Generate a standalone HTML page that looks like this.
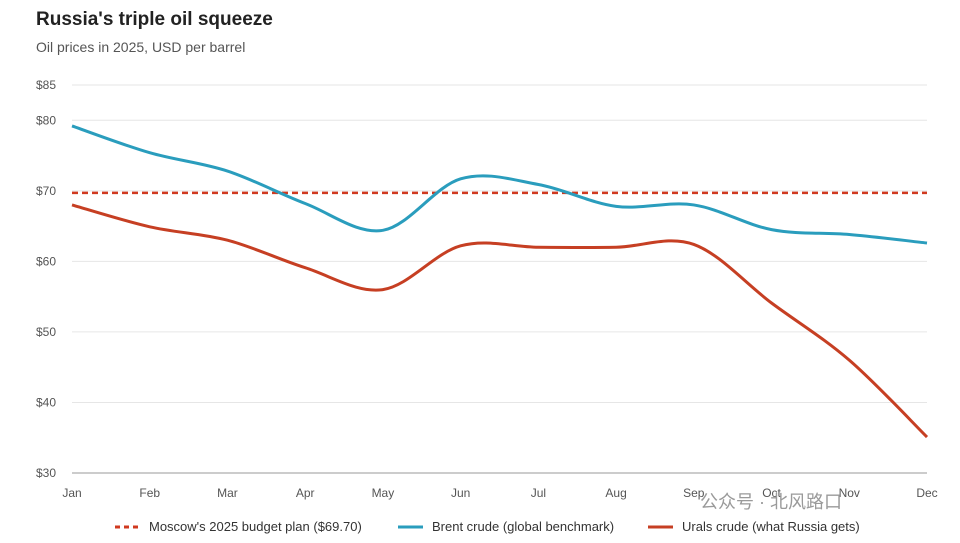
<!DOCTYPE html>
<html><head><meta charset="utf-8">
<style>
body{margin:0;background:#fff;width:960px;height:543px;overflow:hidden;font-family:"Liberation Sans","Noto Sans CJK SC",sans-serif;}
#title{position:absolute;left:36px;top:9px;font-size:19px;font-weight:bold;color:#222;}
#sub{position:absolute;left:36px;top:39px;font-size:14px;color:#555;}
svg{position:absolute;left:0;top:0;}
</style></head><body>
<div id="title">Russia's triple oil squeeze</div>
<div id="sub">Oil prices in 2025, USD per barrel</div>
<svg id="chart" width="960" height="543"></svg>
<script>
const months=["Jan","Feb","Mar","Apr","May","Jun","Jul","Aug","Sep","Oct","Nov","Dec"];
const brent=[79.2,75.4,72.8,68.2,64.4,71.7,70.9,67.8,68.0,64.5,63.8,62.6];
const urals=[68.0,64.9,63.0,59.1,56.0,62.2,62.0,62.0,62.4,54.1,46.0,35.1];
const budget=69.7;
const yTicks=[30,40,50,60,70,80,85];
const NS="http://www.w3.org/2000/svg";
const svg=document.getElementById('chart');
const x=i=>72+i*(927-72)/11;
const y=v=>473-(v-30)*(473-85)/55;
function el(t,a,p){const e=document.createElementNS(NS,t);for(const k in a)e.setAttribute(k,a[k]);(p||svg).appendChild(e);return e;}
yTicks.forEach(t=>{
 const g=el('line',{x1:72,x2:927,y1:y(t),y2:y(t),stroke:t===30?'#999':'#e6e6e6','stroke-width':1});
 
 
 const tx=el('text',{x:36,y:y(t)+4,'font-size':12,fill:'#555'});tx.textContent='$'+t;
 
 
});
months.forEach((m,i)=>{
 const tx=el('text',{x:x(i),y:497,'font-size':12,fill:'#555','text-anchor':'middle'});tx.textContent=m;
 
 
});
function path(vals){
 const n=vals.length,px=vals.map((v,i)=>x(i)),py=vals.map(v=>y(v));
 let s='M'+px[0]+','+py[0];
 for(let i=0;i<n-1;i++){
  const i0=Math.max(0,i-1),i3=Math.min(n-1,i+2);
  const c1x=px[i]+(px[i+1]-px[i0])/6,c1y=py[i]+(py[i+1]-py[i0])/6;
  const c2x=px[i+1]-(px[i3]-px[i])/6,c2y=py[i+1]-(py[i3]-py[i])/6;
  s+=` C${c1x},${c1y} ${c2x},${c2y} ${px[i+1]},${py[i+1]}`;
 }
 return s;
}
const bl=el('line',{x1:72,x2:927,y1:y(budget),y2:y(budget),stroke:'#d0391f','stroke-width':2.5,'stroke-dasharray':'6,4'});


const b=el('path',{d:path(brent),fill:'none',stroke:'#2a9dbd','stroke-width':3});


const u=el('path',{d:path(urals),fill:'none',stroke:'#c63f23','stroke-width':3});


const leg=[[115,"Moscow's 2025 budget plan ($69.70)",'#d0391f',true],[398,'Brent crude (global benchmark)','#2a9dbd',false],[648,'Urals crude (what Russia gets)','#c63f23',false]];
leg.forEach(l=>{
 const g=el('g',{});
 
 
 const a={x1:l[0],x2:l[0]+25,y1:527,y2:527,stroke:l[2],'stroke-width':3};
 if(l[3])a['stroke-dasharray']='5,4';
 el('line',a,g);
 const t=el('text',{x:l[0]+34,y:531,'font-size':13,fill:'#333'},g);t.textContent=l[1];
});
const wm=el('text',{x:700,y:508,'font-size':18,fill:'#9a9a9a'});wm.textContent='公众号 · 北风路口';


</script>
</body></html>
